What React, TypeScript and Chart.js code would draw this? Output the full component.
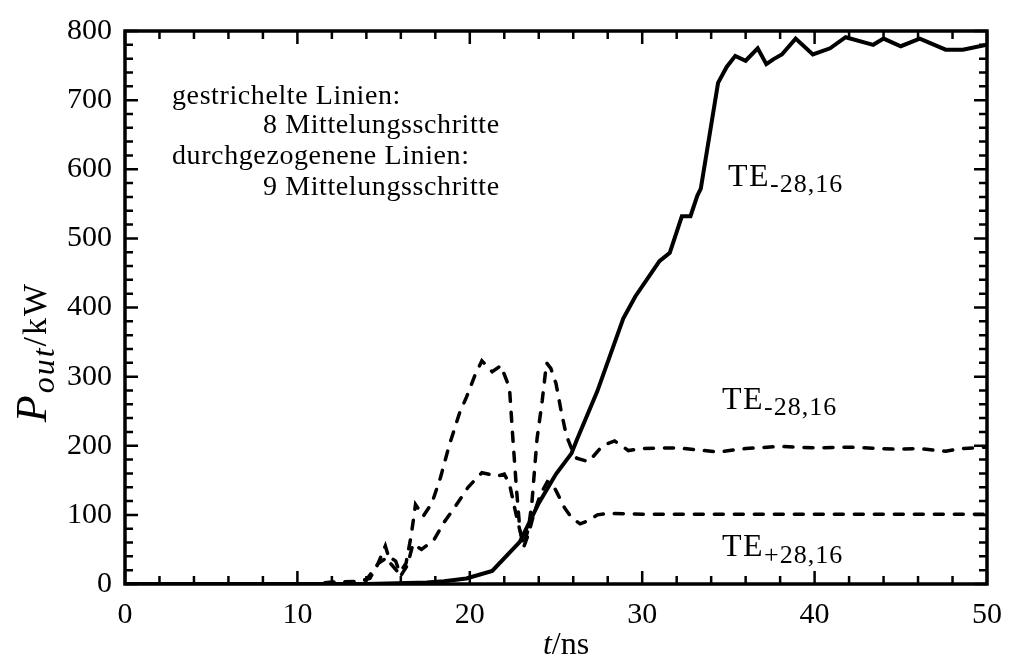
import { useEffect, useRef } from "react";
import { Chart, registerables } from "chart.js";

Chart.register(...registerables);

// ---- axis ticks ----
const xTickValues = [0, 10, 20, 30, 40, 50];
const yTickValues = [0, 100, 200, 300, 400, 500, 600, 700, 800];

// ---- data: [t (ns), P_out (kW)] ----
// solid line: 9 Mittelungsschritte, TE-28,16
const solid9: [number, number][] = [
  [0, 0], [14, 0], [15.8, 1], [17.5, 2], [18.5, 4], [19.8, 8], [21.3, 19],
  [22.9, 61], [24.0, 117], [25.0, 159], [25.9, 189], [26.2, 208], [27.4, 279],
  [28.9, 384], [29.6, 416], [31.0, 467], [31.6, 479], [32.3, 532], [32.8, 532],
  [33.2, 562], [33.4, 572], [34.4, 725], [34.9, 748], [35.4, 764], [36.0, 757],
  [36.7, 775], [37.2, 752], [37.6, 759], [38.1, 766], [38.9, 789], [39.9, 766],
  [40.9, 775], [41.8, 791], [43.4, 780], [44.0, 789], [45.0, 778], [46.1, 789],
  [47.6, 773], [48.6, 773], [50, 780],
];

// dashed line: 8 Mittelungsschritte, TE-28,16
const dashedMinus8: [number, number][] = [
  [0, 0], [11, 0], [12.5, 3], [13.5, 4], [14.2, 8], [14.6, 25], [15.1, 55],
  [15.4, 30], [15.9, 15], [16.3, 30], [16.6, 70], [16.85, 115], [17.3, 98],
  [17.8, 117], [18.3, 154], [18.8, 200], [19.4, 247], [19.8, 270], [20.3, 302],
  [20.7, 323], [21.3, 307], [21.8, 316], [22.3, 284], [22.5, 210], [22.7, 140],
  [22.9, 80], [23.1, 55], [23.4, 80], [23.6, 117], [23.9, 210], [24.2, 265],
  [24.45, 320], [24.7, 312], [25.0, 290], [25.3, 250], [25.6, 215], [25.9, 196],
  [26.2, 182], [26.9, 177], [27.7, 200], [28.4, 207], [29.2, 193], [30, 196],
  [32, 197], [34.4, 191], [36, 196], [38, 199], [40, 197], [42, 198],
  [44.7, 195], [46, 196], [47.6, 192], [48.5, 196], [50, 198],
];

// dashed line: 8 Mittelungsschritte, TE+28,16
const dashedPlus8: [number, number][] = [
  [0, 0], [11, 0], [12, 3], [13, 2], [14, 6], [14.7, 30], [15.3, 40],
  [15.7, 33], [16.0, 12], [16.4, 28], [16.7, 58], [17.2, 50], [17.9, 63],
  [18.5, 89], [18.9, 103], [19.4, 121], [19.9, 140], [20.7, 161], [21.6, 156],
  [22.0, 159], [22.3, 145], [22.6, 110], [22.9, 78], [23.15, 55], [23.4, 72],
  [23.7, 100], [24.1, 130], [24.5, 148], [24.8, 145], [25.1, 130], [25.5, 110],
  [25.9, 96], [26.4, 87], [26.9, 92], [27.4, 100], [28, 102], [30, 101],
  [35, 101], [40, 101], [45, 101], [50, 101],
];

const noteLines = [
  "gestrichelte Linien:",
  "8 Mittelungsschritte",
  "durchgezogenene Linien:",
  "9 Mittelungsschritte",
];

const SERIF = '"Liberation Serif", "Times New Roman", serif';

type Part = { text: string; font: string; dy?: number; spacing?: number };

function drawParts(ctx: CanvasRenderingContext2D, parts: Part[], x: number, y: number, align: "left" | "center") {
  ctx.textAlign = "left";
  ctx.textBaseline = "alphabetic";
  const widths = parts.map((p) => {
    ctx.font = p.font;
    (ctx as any).letterSpacing = `${p.spacing ?? 0}px`;
    return ctx.measureText(p.text).width;
  });
  const total = widths.reduce((a, b) => a + b, 0);
  let cx = align === "center" ? x - total / 2 : x;
  parts.forEach((p, i) => {
    ctx.font = p.font;
    (ctx as any).letterSpacing = `${p.spacing ?? 0}px`;
    ctx.fillText(p.text, cx, y + (p.dy ?? 0));
    cx += widths[i];
  });
  (ctx as any).letterSpacing = "0px";
}

const framePlugin = {
  id: "frameAndText",
  afterDatasetsDraw(chart: any) {
    const { ctx, chartArea: a } = chart;
    const xs = chart.scales.x;
    const ys = chart.scales.y;
    ctx.save();
    ctx.strokeStyle = "#000";
    ctx.fillStyle = "#000";
    ctx.lineWidth = 2.5;
    ctx.beginPath();
    for (let t = 0; t <= 50; t += 2) {
      const px = xs.getPixelForValue(t);
      const len = t % 10 === 0 ? 13 : 8;
      ctx.moveTo(px, a.bottom);
      ctx.lineTo(px, a.bottom - len);
      ctx.moveTo(px, a.top);
      ctx.lineTo(px, a.top + len);
    }
    for (let v = 0; v <= 800; v += 20) {
      const py = ys.getPixelForValue(v);
      const len = v % 100 === 0 ? 13 : 8;
      ctx.moveTo(a.left, py);
      ctx.lineTo(a.left + len, py);
      ctx.moveTo(a.right, py);
      ctx.lineTo(a.right - len, py);
    }
    ctx.stroke();
    ctx.lineWidth = 3.5;
    ctx.strokeRect(a.left, a.top, a.right - a.left, a.bottom - a.top);

    // annotation block
    const f28 = `28px ${SERIF}`;
    drawParts(ctx, [{ text: noteLines[0], font: f28, spacing: 0.6 }], 172, 104, "left");
    drawParts(ctx, [{ text: noteLines[1], font: f28, spacing: 0.6 }], 263, 133, "left");
    drawParts(ctx, [{ text: noteLines[2], font: f28, spacing: 0.6 }], 172, 164, "left");
    drawParts(ctx, [{ text: noteLines[3], font: f28, spacing: 0.6 }], 263, 195, "left");

    // mode labels
    const te = `32px ${SERIF}`;
    const sub = `26px ${SERIF}`;
    drawParts(ctx, [{ text: "TE", font: te, spacing: 1.5 }, { text: "-28,16", font: sub, dy: 6, spacing: 1 }], 728, 186, "left");
    drawParts(ctx, [{ text: "TE", font: te, spacing: 1.5 }, { text: "-28,16", font: sub, dy: 6, spacing: 1 }], 722, 409, "left");
    drawParts(ctx, [{ text: "TE", font: te, spacing: 1.5 }, { text: "+28,16", font: sub, dy: 7, spacing: 1 }], 722, 556, "left");

    // x title
    drawParts(
      ctx,
      [
        { text: "t", font: `italic 32px ${SERIF}` },
        { text: "/ns", font: `32px ${SERIF}` },
      ],
      566, 654, "center"
    );

    // y title (rotated)
    ctx.save();
    ctx.translate(33, 352);
    ctx.rotate(-Math.PI / 2);
    drawParts(
      ctx,
      [
        { text: "P", font: `italic 44px ${SERIF}`, spacing: 2 },
        { text: "out", font: `italic 32px ${SERIF}`, dy: 8, spacing: 2 },
        { text: "/kW", font: `34px ${SERIF}`, spacing: 2 },
      ],
      0, 13, "center"
    );
    ctx.restore();
    ctx.restore();
  },
};

const toXY = (arr: [number, number][]) => arr.map(([x, y]) => ({ x, y }));

export default function App() {
  const ref = useRef<HTMLCanvasElement | null>(null);
  useEffect(() => {
    if (!ref.current) return;
    const tickFont = { family: SERIF, size: 30 };
    const chart = new Chart(ref.current, {
      type: "line",
      data: {
        datasets: [
          {
            label: "9 Mittelungsschritte TE-28,16",
            data: toXY(solid9),
            borderColor: "#000",
            borderWidth: 4,
            pointRadius: 0,
            tension: 0,
            fill: false,
          },
          {
            label: "8 Mittelungsschritte TE-28,16",
            data: toXY(dashedMinus8),
            borderColor: "#000",
            borderWidth: 3.5,
            borderDash: [9, 11],
            borderCapStyle: "round",
            pointRadius: 0,
            tension: 0,
            fill: false,
          },
          {
            label: "8 Mittelungsschritte TE+28,16",
            data: toXY(dashedPlus8),
            borderColor: "#000",
            borderWidth: 3.5,
            borderDash: [9, 11],
            borderCapStyle: "round",
            pointRadius: 0,
            tension: 0,
            fill: false,
          },
        ],
      },
      options: {
        animation: false,
        responsive: false,
        devicePixelRatio: 1,
        layout: { padding: { top: 9, right: 20, left: 0, bottom: 0 } },
        plugins: { legend: { display: false }, tooltip: { enabled: false } },
        scales: {
          x: {
            type: "linear",
            min: 0,
            max: 50,
            afterBuildTicks: (s: any) => {
              s.ticks = xTickValues.map((v) => ({ value: v }));
            },
            ticks: { font: tickFont, color: "#000", padding: 13, maxRotation: 0, autoSkip: false },
            grid: { display: false, drawTicks: false },
            border: { display: false },
            afterFit: (s: any) => {
              s.height = 78;
            },
          },
          y: {
            type: "linear",
            min: 0,
            max: 800,
            afterBuildTicks: (s: any) => {
              s.ticks = yTickValues.map((v) => ({ value: v }));
            },
            ticks: { font: tickFont, color: "#000", padding: 13, autoSkip: false },
            grid: { display: false, drawTicks: false },
            border: { display: false },
            afterFit: (s: any) => {
              s.width = 125;
            },
          },
        },
      },
      plugins: [framePlugin],
    });
    return () => chart.destroy();
  }, []);
  return (
    <div style={{ position: "absolute", left: 0, top: 0, width: 1015, height: 662, background: "#fff" }}>
      <canvas ref={ref} width={1015} height={662} style={{ width: 1015, height: 662, display: "block" }} />
    </div>
  );
}
